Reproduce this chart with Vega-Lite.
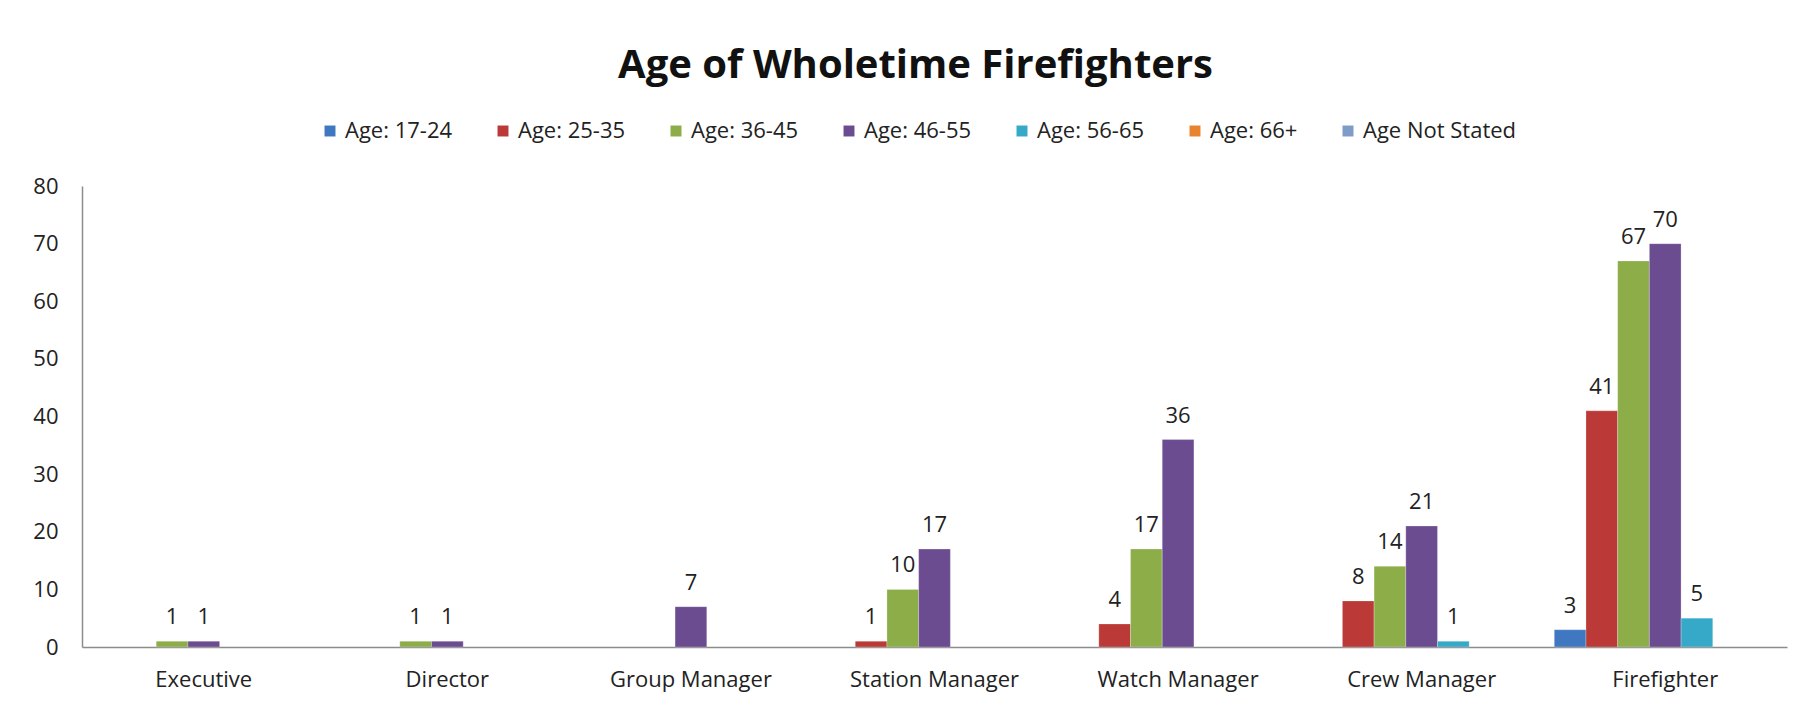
{
  "$schema": "https://vega.github.io/schema/vega-lite/v6.json",
  "width": 1705,
  "height": 461,
  "autosize": {"type": "none"},
  "padding": {"left": 82, "top": 186, "right": 13, "bottom": 60},
  "background": "white",
  "title": {
    "text": "Age of Wholetime Firefighters",
    "font": "Open Sans",
    "fontSize": 40,
    "fontWeight": "bold",
    "color": "#111111",
    "anchor": "middle",
    "offset": 34,
    "dx": -19
  },
  "config": {
    "view": {"stroke": null},
    "font": "Open Sans",
    "axis": {"labelFont": "Open Sans", "labelColor": "#222222", "labelFontSize": 22, "grid": false, "ticks": false, "domainColor": "#8c8c8c", "domainWidth": 1.5, "title": null}
  },
  "data": {
    "values": [
      {"role": "Executive", "age": "Age: 36-45", "count": 1},
      {"role": "Executive", "age": "Age: 46-55", "count": 1},
      {"role": "Director", "age": "Age: 36-45", "count": 1},
      {"role": "Director", "age": "Age: 46-55", "count": 1},
      {"role": "Group Manager", "age": "Age: 46-55", "count": 7},
      {"role": "Station Manager", "age": "Age: 25-35", "count": 1},
      {"role": "Station Manager", "age": "Age: 36-45", "count": 10},
      {"role": "Station Manager", "age": "Age: 46-55", "count": 17},
      {"role": "Watch Manager", "age": "Age: 25-35", "count": 4},
      {"role": "Watch Manager", "age": "Age: 36-45", "count": 17},
      {"role": "Watch Manager", "age": "Age: 46-55", "count": 36},
      {"role": "Crew Manager", "age": "Age: 25-35", "count": 8},
      {"role": "Crew Manager", "age": "Age: 36-45", "count": 14},
      {"role": "Crew Manager", "age": "Age: 46-55", "count": 21},
      {"role": "Crew Manager", "age": "Age: 56-65", "count": 1},
      {"role": "Firefighter", "age": "Age: 17-24", "count": 3},
      {"role": "Firefighter", "age": "Age: 25-35", "count": 41},
      {"role": "Firefighter", "age": "Age: 36-45", "count": 67},
      {"role": "Firefighter", "age": "Age: 46-55", "count": 70},
      {"role": "Firefighter", "age": "Age: 56-65", "count": 5}
    ]
  },
  "encoding": {
    "x": {
      "field": "role", "type": "nominal",
      "sort": ["Executive", "Director", "Group Manager", "Station Manager", "Watch Manager", "Crew Manager", "Firefighter"],
      "scale": {"paddingInner": 0.089, "paddingOuter": 0.0445},
      "axis": {"labelAngle": 0, "labelPadding": 22}
    },
    "xOffset": {
      "field": "age", "type": "nominal",
      "scale": {"domain": ["Age: 17-24", "Age: 25-35", "Age: 36-45", "Age: 46-55", "Age: 56-65", "Age: 66+", "Age Not Stated"], "paddingInner": 0, "paddingOuter": 0}
    },
    "y": {
      "field": "count", "type": "quantitative",
      "scale": {"domain": [0, 80], "nice": false},
      "axis": {"values": [0, 10, 20, 30, 40, 50, 60, 70, 80], "labelPadding": 24}
    }
  },
  "layer": [
    {
      "mark": {"type": "bar", "stroke": "#ffffff", "strokeOpacity": 0.25, "strokeWidth": 1},
      "encoding": {
        "color": {
          "field": "age", "type": "nominal",
          "scale": {
            "domain": ["Age: 17-24", "Age: 25-35", "Age: 36-45", "Age: 46-55", "Age: 56-65", "Age: 66+", "Age Not Stated"],
            "range": ["#3f78c0", "#bb3a37", "#8cad48", "#6b4c91", "#36a9c9", "#e8842f", "#7f9cc9"]
          },
          "legend": {
            "title": null,
            "orient": "none",
            "direction": "horizontal",
            "legendX": 237,
            "legendY": -66,
            "symbolType": "square",
            "symbolSize": 120,
            "symbolStrokeWidth": 0,
            "labelFont": "Open Sans",
            "labelFontSize": 22,
            "labelColor": "#222222",
            "columnPadding": 39,
            "labelOffset": 4
          }
        }
      }
    },
    {
      "mark": {"type": "text", "baseline": "alphabetic", "dy": -17, "font": "Open Sans", "fontSize": 22, "color": "#222222"},
      "encoding": {"text": {"field": "count", "type": "quantitative"}}
    }
  ]
}
